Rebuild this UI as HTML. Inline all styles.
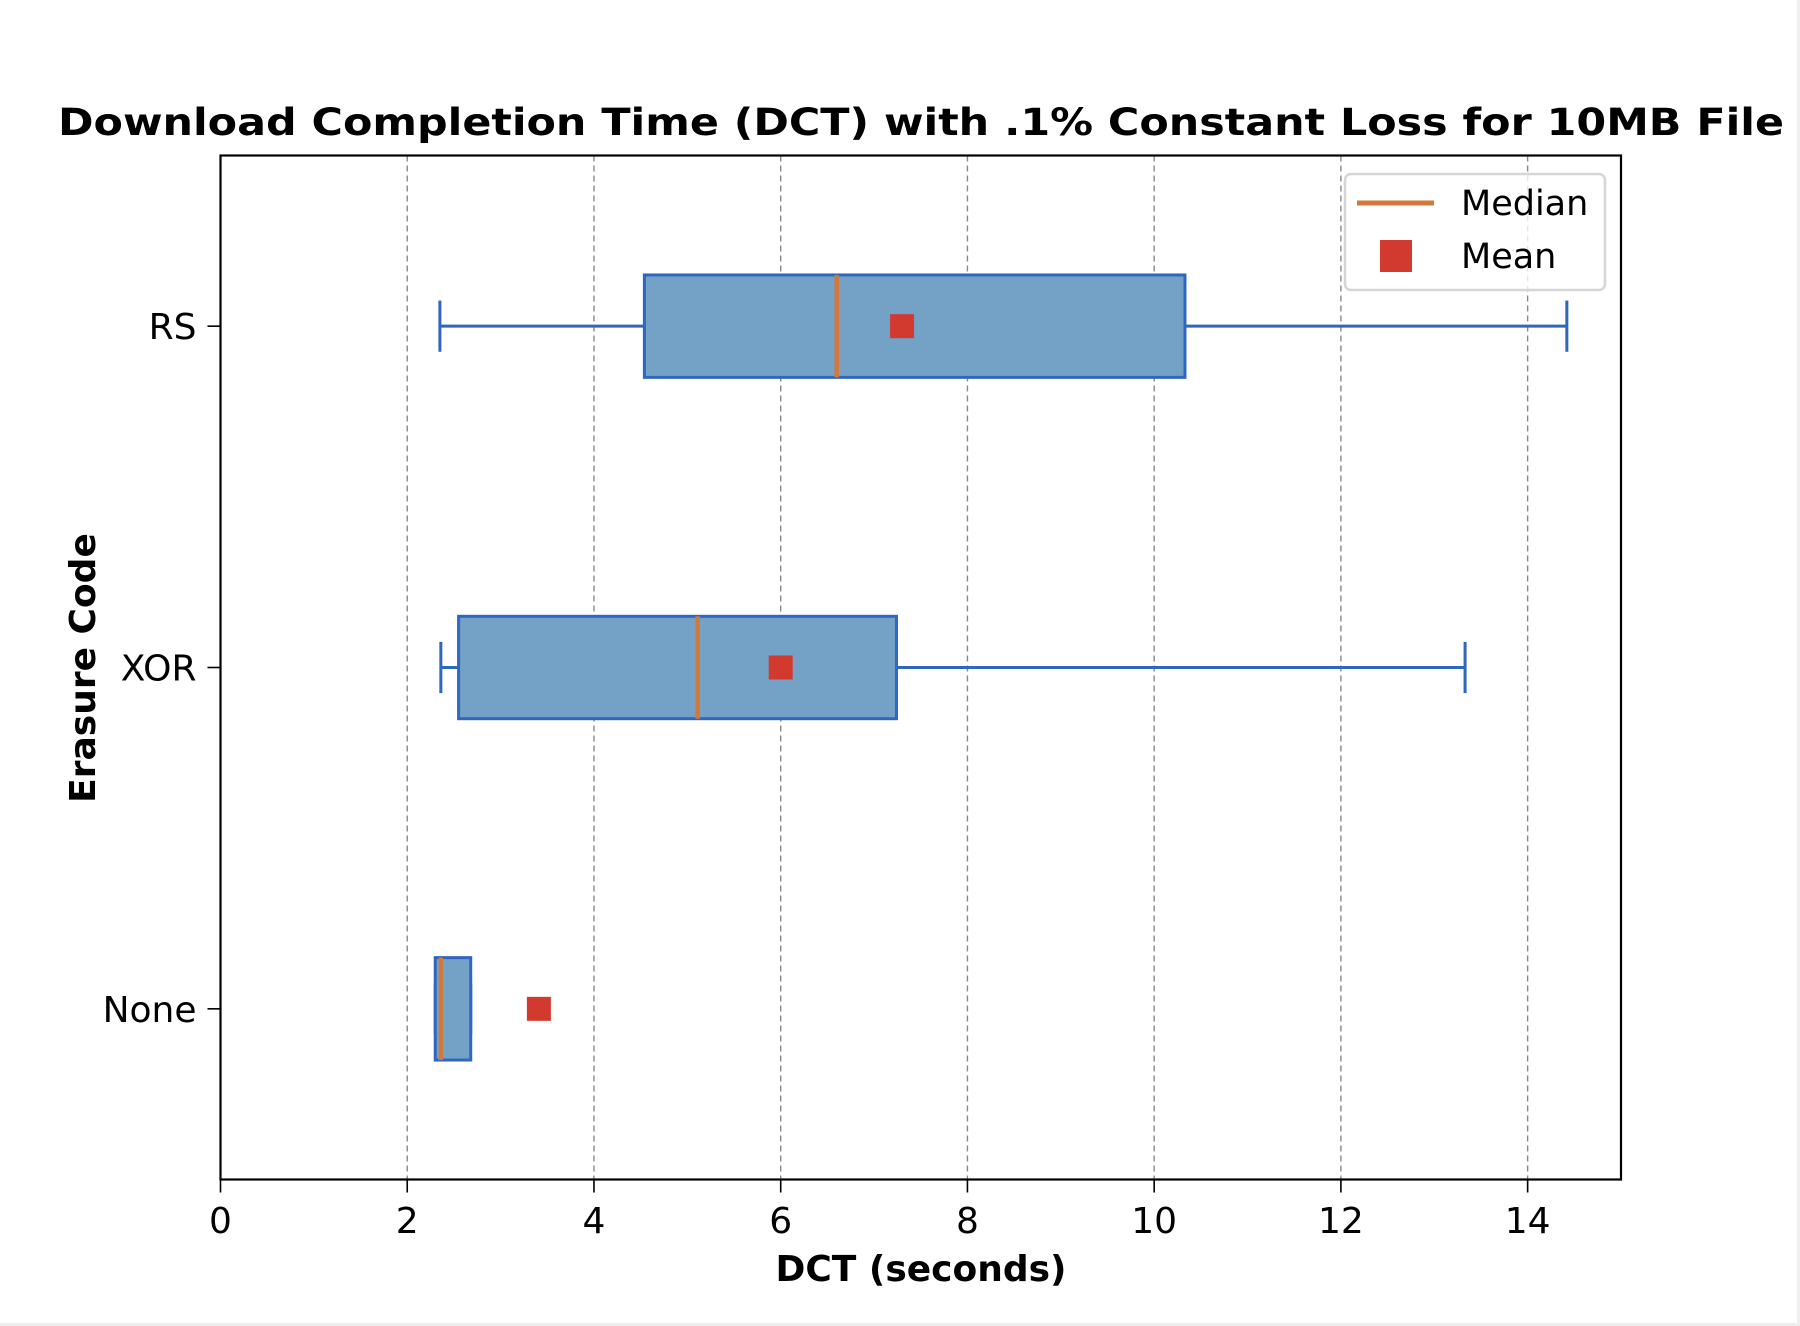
<!DOCTYPE html>
<html><head><meta charset="utf-8"><style>
html,body{margin:0;padding:0;background:#fff}
svg{display:block}
text{font-family:"DejaVu Sans","Liberation Sans",sans-serif}
</style></head><body>
<svg id="chart" width="1800" height="1326" viewBox="0 0 1800 1326" xmlns="http://www.w3.org/2000/svg">
<rect x="0" y="0" width="1800" height="1326" fill="#fff"/>
<rect x="0" y="1323" width="1800" height="3" fill="#eeeeee"/>
<rect x="1797" y="0" width="3" height="1326" fill="#eeeeee"/>
<g id="grid"></g>
<g id="boxes"></g>
<rect x="220.5" y="155.5" width="1400.5" height="1024" fill="none" stroke="#000" stroke-width="2.2"/>
<g id="xticks"></g>
<g id="yticks"></g>
<text x="921" y="135" text-anchor="middle" font-size="37" font-weight="bold" textLength="1726" lengthAdjust="spacingAndGlyphs">Download Completion Time (DCT) with .1% Constant Loss for 10MB File</text>
<text x="921" y="1281" text-anchor="middle" font-size="36" font-weight="bold">DCT (seconds)</text>
<text transform="translate(95,668) rotate(-90)" text-anchor="middle" font-size="36" font-weight="bold">Erasure Code</text>
<g>
<rect x="1345" y="174" width="260" height="116" rx="6" fill="#fff" fill-opacity="0.8" stroke="#d6d6d6" stroke-width="2.5"/>
<line x1="1357" y1="203" x2="1434" y2="203" stroke="#d4773a" stroke-width="5"/>
<text x="1461" y="215" font-size="35">Median</text>
<rect x="1380" y="240" width="32" height="32" fill="#d23a2f"/>
<text x="1461" y="268" font-size="35">Mean</text>
</g>
</svg>
<script>
const categories = ["None", "XOR", "RS"];
const whiskerLow = [2.30, 2.36, 2.35];
const q1 = [2.30, 2.55, 4.54];
const medians = [2.36, 5.11, 6.60];
const q3 = [2.68, 7.24, 10.33];
const whiskerHigh = [2.68, 13.33, 14.42];
const means = [3.41, 6.00, 7.30];
const xTicks = [0, 2, 4, 6, 8, 10, 12, 14];

const NS = "http://www.w3.org/2000/svg";
const X0 = 220.5, X1 = 1621, Y0 = 155.5, Y1 = 1179.5;
const xMin = 0, xMax = 15, yMin = 0.5, yMax = 3.5;
function xs(v){ return X0 + (v - xMin) / (xMax - xMin) * (X1 - X0); }
function ys(v){ return Y1 - (v - yMin) / (yMax - yMin) * (Y1 - Y0); }
function mk(tag, attrs, parent){
  const el = document.createElementNS(NS, tag);
  for (const k in attrs) el.setAttribute(k, attrs[k]);
  parent.appendChild(el);
  return el;
}
const grid = document.getElementById("grid");
const xg = document.getElementById("xticks");
const yg = document.getElementById("yticks");
const bg = document.getElementById("boxes");
const unit = (Y1 - Y0) / (yMax - yMin);

xTicks.forEach(t => {
  const x = xs(t);
  if (t > xMin) {
    const gl = mk("line", {x1:x, y1:Y0, x2:x, y2:Y1, stroke:"#888", "stroke-width":1.4, "stroke-dasharray":"6,4"}, grid);
    
    
  }
  const tk = mk("line", {x1:x, y1:Y1, x2:x, y2:Y1+13, stroke:"#000", "stroke-width":1.6}, xg);
  
  
  const lb = mk("text", {x:x, y:1233, "text-anchor":"middle", "font-size":"36"}, xg);
  lb.textContent = String(t);
  
  
});

categories.forEach((c, i) => {
  const y = ys(i + 1);
  const tk = mk("line", {x1:X0-13, y1:y, x2:X0, y2:y, stroke:"#000", "stroke-width":1.6}, yg);
  
  
  const lb = mk("text", {x:X0-24, y:y+13, "text-anchor":"end", "font-size":"36"}, yg);
  lb.textContent = c;
  
  

  const hb = 0.15 * unit, hc = 0.075 * unit;
  const g = mk("g", {}, bg);
  
  
  const w1 = mk("line", {x1:xs(whiskerLow[i]), y1:y, x2:xs(q1[i]), y2:y, stroke:"#2f66bf", "stroke-width":3}, g);
  
  
  const w2 = mk("line", {x1:xs(q3[i]), y1:y, x2:xs(whiskerHigh[i]), y2:y, stroke:"#2f66bf", "stroke-width":3}, g);
  
  
  const c1 = mk("line", {x1:xs(whiskerLow[i]), y1:y-hc, x2:xs(whiskerLow[i]), y2:y+hc, stroke:"#2f66bf", "stroke-width":3}, g);
  
  
  const c2 = mk("line", {x1:xs(whiskerHigh[i]), y1:y-hc, x2:xs(whiskerHigh[i]), y2:y+hc, stroke:"#2f66bf", "stroke-width":3}, g);
  
  
  const bx = mk("rect", {x:xs(q1[i]), y:y-hb, width:xs(q3[i])-xs(q1[i]), height:2*hb, fill:"#73a2c6", stroke:"#2f66bf", "stroke-width":3}, g);
  
  
  const md = mk("line", {x1:xs(medians[i]), y1:y-hb, x2:xs(medians[i]), y2:y+hb, stroke:"#d4773a", "stroke-width":4.5}, g);
  
  
  const mn = mk("rect", {x:xs(means[i])-12, y:y-12, width:24, height:24, fill:"#d23a2f"}, g);
  
  
});
</script>
</body></html>
